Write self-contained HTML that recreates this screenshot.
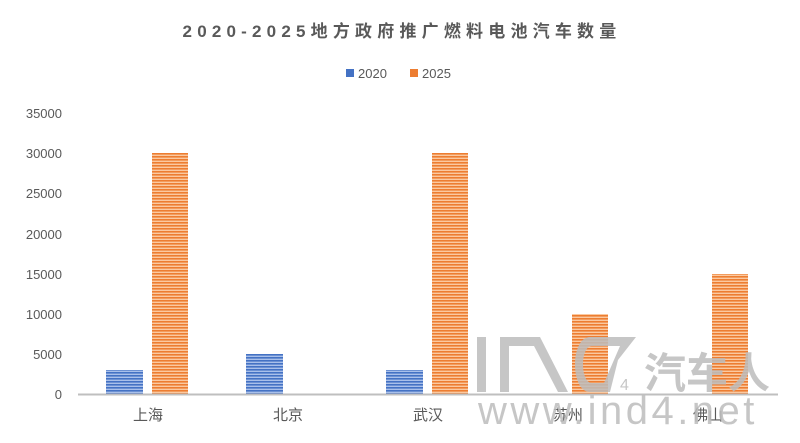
<!DOCTYPE html>
<html><head><meta charset="utf-8"><style>
html,body{margin:0;padding:0;background:#fff;}
svg{display:block;font-family:"Liberation Sans","Noto Sans CJK SC",sans-serif;}
</style></head><body>
<svg width="800" height="443" viewBox="0 0 800 443">
<defs>
<pattern id="pb" width="4" height="3" patternUnits="userSpaceOnUse"><rect width="4" height="3" fill="#a9c0ea"/><rect width="4" height="1.6" fill="#4472c4"/></pattern>
<pattern id="po" width="4" height="3" patternUnits="userSpaceOnUse"><rect width="4" height="3" fill="#fbc9a0"/><rect width="4" height="1.6" fill="#ed7d31"/></pattern>
</defs>
<rect width="800" height="443" fill="#fff"/>
<text x="402" y="37" text-anchor="middle" font-size="17" font-weight="bold" fill="#595959" letter-spacing="5.2">2020-2025地方政府推广燃料电池汽车数量</text>
<rect x="346" y="69" width="8" height="8" fill="#4472c4"/>
<text x="358" y="78" font-size="13" fill="#595959">2020</text>
<rect x="410" y="69" width="8" height="8" fill="#ed7d31"/>
<text x="422" y="78" font-size="13" fill="#595959">2025</text>
<g font-size="13" fill="#595959" text-anchor="end">
<text x="62" y="399">0</text><text x="62" y="359">5000</text><text x="62" y="319">10000</text><text x="62" y="279">15000</text><text x="62" y="239">20000</text><text x="62" y="198">25000</text><text x="62" y="158">30000</text><text x="62" y="118">35000</text>
</g>
<rect x="106" y="370" width="37" height="24" fill="url(#pb)"/>
<rect x="152" y="153" width="36" height="241" fill="url(#po)"/>
<rect x="246" y="354" width="37" height="40" fill="url(#pb)"/>
<rect x="386" y="370" width="37" height="24" fill="url(#pb)"/>
<rect x="432" y="153" width="36" height="241" fill="url(#po)"/>
<rect x="572" y="314" width="36" height="80" fill="url(#po)"/>
<rect x="712" y="274" width="36" height="120" fill="url(#po)"/>
<line x1="78" y1="394.5" x2="778" y2="394.5" stroke="#bfbfbf" stroke-width="2"/>
<g font-size="15" fill="#595959" text-anchor="middle">
<text x="148" y="420">上海</text><text x="288" y="420">北京</text><text x="428" y="420">武汉</text><text x="568" y="420">苏州</text><text x="708" y="420">佛山</text>
</g>
<g fill="#bdbdbd" opacity="0.85">
<rect x="477" y="337" width="9" height="55"/>
<path d="M500 392 V337 H540 L568 392 H558 L534 346 H509 V392 Z"/>
<path d="M590 337 H636 L618 360 L610 392 H590 C570 392 570 337 590 337 Z M592 346 C580 346 580 383 592 383 H604 L620 346 Z" fill-rule="evenodd"/>
<text x="620" y="390" font-size="16">4</text>
<text x="644" y="388" font-size="42" font-weight="bold">汽车人</text>
<text x="478" y="424" font-size="40" letter-spacing="3.5">www.ind4.net</text>
</g>
</svg>
</body></html>
